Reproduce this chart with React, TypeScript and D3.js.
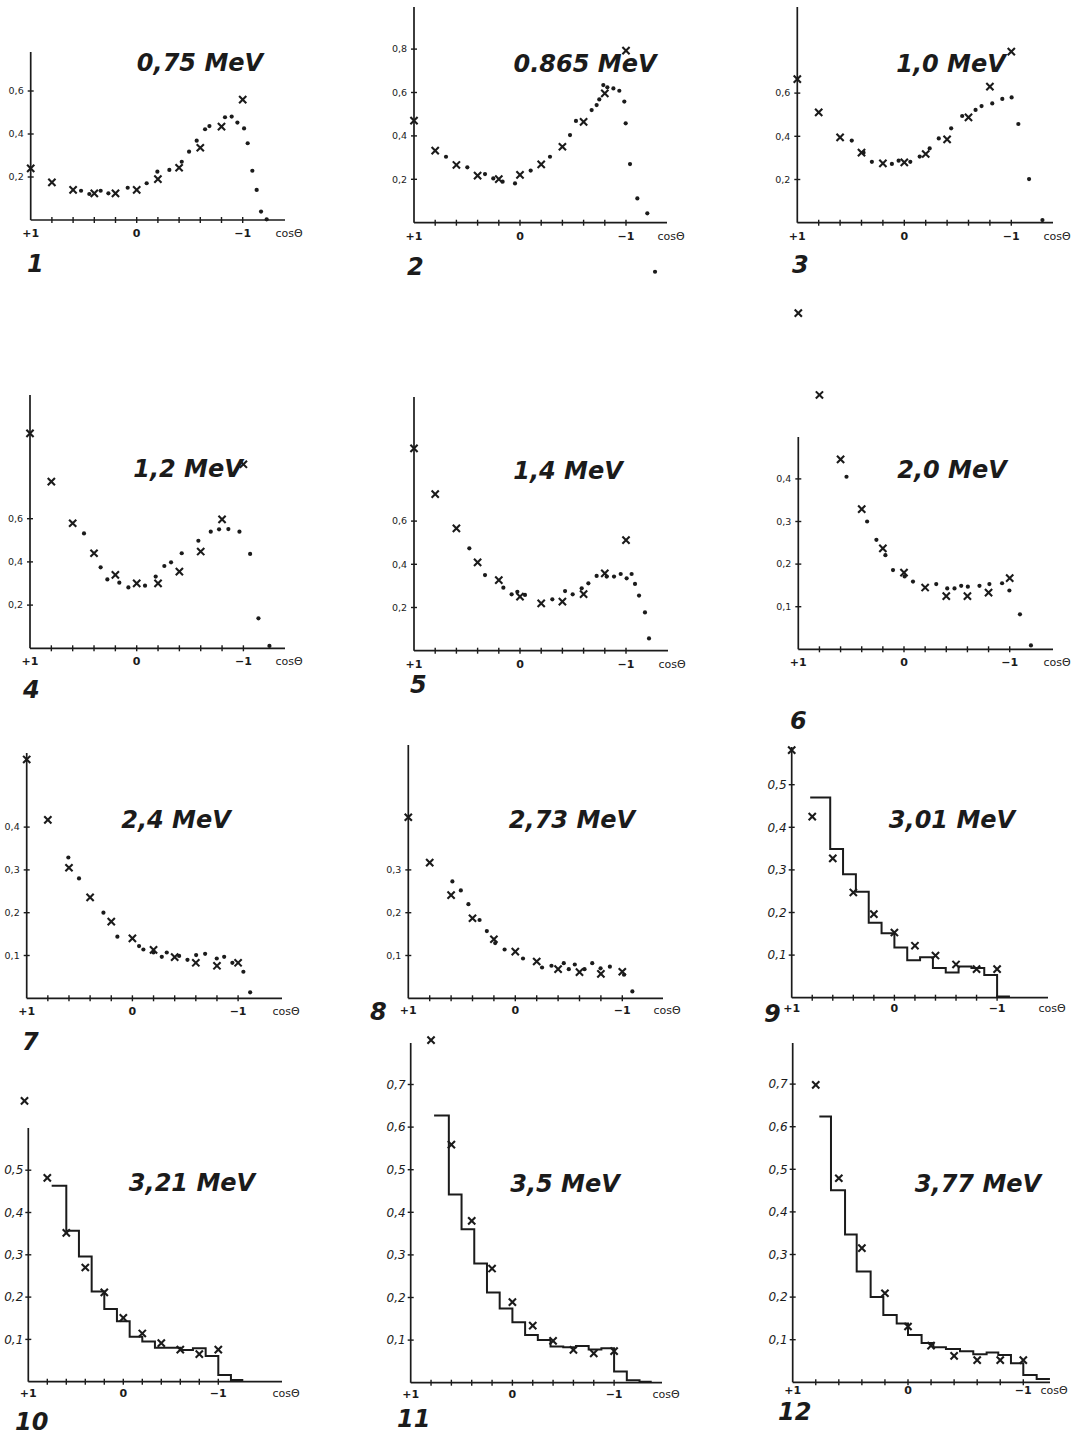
import React, { useEffect, useRef } from "react";
import { select, scaleLinear, line, curveStepAfter } from "d3";

// energies and panel numbers
const titles = ["0,75 MeV", "0.865 MeV", "1,0 MeV", "1,2 MeV", "1,4 MeV", "2,0 MeV", "2,4 MeV", "2,73 MeV", "3,01 MeV", "3,21 MeV", "3,5 MeV", "3,77 MeV"];
const numbers = ["1", "2", "3", "4", "5", "6", "7", "8", "9", "10", "11", "12"];

const yTicks = [
  [0.2, 0.4, 0.6],
  [0.2, 0.4, 0.6, 0.8],
  [0.2, 0.4, 0.6],
  [0.2, 0.4, 0.6],
  [0.2, 0.4, 0.6],
  [0.1, 0.2, 0.3, 0.4],
  [0.1, 0.2, 0.3, 0.4],
  [0.1, 0.2, 0.3],
  [0.1, 0.2, 0.3, 0.4, 0.5],
  [0.1, 0.2, 0.3, 0.4, 0.5],
  [0.1, 0.2, 0.3, 0.4, 0.5, 0.6, 0.7],
  [0.1, 0.2, 0.3, 0.4, 0.5, 0.6, 0.7],
];
const xTicks = [0.8, 0.6, 0.4, 0.2, 0, -0.2, -0.4, -0.6, -0.8, -1];

// [cos theta, value]
const crosses1 = [[1, 0.24], [0.8, 0.175], [0.6, 0.14], [0.4, 0.124], [0.2, 0.124], [0, 0.14], [-0.2, 0.19], [-0.4, 0.243], [-0.6, 0.336], [-0.8, 0.434], [-1, 0.56]];
const dots1 = [[0.525, 0.136], [0.447, 0.121], [0.34, 0.136], [0.267, 0.124], [0.085, 0.15], [-0.094, 0.171], [-0.195, 0.225], [-0.308, 0.233], [-0.425, 0.271], [-0.494, 0.318], [-0.566, 0.369], [-0.645, 0.422], [-0.686, 0.437], [-0.833, 0.478], [-0.896, 0.481], [-0.95, 0.453], [-1.013, 0.426], [-1.047, 0.357], [-1.091, 0.229], [-1.132, 0.14], [-1.173, 0.039], [-1.226, 0.003]];

const crosses2 = [[1, 0.47], [0.8, 0.332], [0.6, 0.266], [0.4, 0.217], [0.2, 0.201], [0, 0.22], [-0.2, 0.269], [-0.4, 0.35], [-0.6, 0.465], [-0.8, 0.596], [-1, 0.793]];
const dots2 = [[0.698, 0.304], [0.497, 0.255], [0.33, 0.224], [0.252, 0.204], [0.164, 0.189], [0.047, 0.181], [-0.101, 0.24], [-0.283, 0.304], [-0.472, 0.404], [-0.528, 0.469], [-0.676, 0.519], [-0.723, 0.542], [-0.748, 0.568], [-0.786, 0.634], [-0.824, 0.624], [-0.881, 0.619], [-0.937, 0.608], [-0.984, 0.558], [-0.997, 0.458], [-1.038, 0.27], [-1.107, 0.112], [-1.201, 0.043], [-1.274, -0.226]];

const crosses3 = [[1, 0.665], [0.8, 0.511], [0.6, 0.395], [0.4, 0.324], [0.2, 0.275], [0, 0.279], [-0.2, 0.318], [-0.4, 0.386], [-0.6, 0.488], [-0.8, 0.63], [-1, 0.792]];
const dots3 = [[0.491, 0.38], [0.381, 0.324], [0.303, 0.282], [0.116, 0.272], [0.053, 0.287], [-0.056, 0.282], [-0.144, 0.306], [-0.237, 0.344], [-0.322, 0.39], [-0.438, 0.437], [-0.541, 0.494], [-0.666, 0.522], [-0.722, 0.54], [-0.822, 0.552], [-0.916, 0.573], [-1.003, 0.58], [-1.066, 0.457], [-1.166, 0.202], [-1.291, 0.012]];

const crosses4 = [[1, 0.995], [0.8, 0.772], [0.6, 0.579], [0.4, 0.44], [0.2, 0.34], [0, 0.301], [-0.2, 0.301], [-0.4, 0.355], [-0.6, 0.448], [-0.8, 0.597], [-1, 0.852]];
const dots4 = [[0.494, 0.532], [0.338, 0.375], [0.275, 0.319], [0.163, 0.304], [0.078, 0.282], [-0.078, 0.29], [-0.178, 0.332], [-0.259, 0.381], [-0.322, 0.398], [-0.422, 0.44], [-0.578, 0.498], [-0.694, 0.54], [-0.772, 0.551], [-0.859, 0.552], [-0.963, 0.54], [-1.063, 0.437], [-1.141, 0.139], [-1.244, 0.011]];

const crosses5 = [[1, 0.937], [0.8, 0.725], [0.6, 0.566], [0.4, 0.409], [0.2, 0.327], [0, 0.25], [-0.2, 0.219], [-0.4, 0.227], [-0.6, 0.262], [-0.8, 0.358], [-1, 0.512]];
const dots5 = [[0.478, 0.474], [0.33, 0.35], [0.157, 0.292], [0.079, 0.261], [0.025, 0.273], [-0.047, 0.258], [-0.305, 0.238], [-0.425, 0.276], [-0.497, 0.261], [-0.582, 0.289], [-0.645, 0.312], [-0.723, 0.346], [-0.818, 0.343], [-0.887, 0.343], [-0.95, 0.355], [-1.006, 0.335], [-1.053, 0.355], [-1.085, 0.309], [-1.123, 0.255], [-1.179, 0.177], [-1.217, 0.057]];

const crosses6 = [[1, 0.789], [0.8, 0.597], [0.6, 0.446], [0.4, 0.329], [0.2, 0.237], [0, 0.18], [-0.2, 0.145], [-0.4, 0.125], [-0.6, 0.125], [-0.8, 0.133], [-1, 0.167]];
const dots6 = [[0.544, 0.405], [0.349, 0.3], [0.261, 0.257], [0.176, 0.221], [0.104, 0.186], [-0.006, 0.171], [-0.085, 0.159], [-0.305, 0.153], [-0.409, 0.143], [-0.478, 0.143], [-0.541, 0.149], [-0.604, 0.147], [-0.714, 0.149], [-0.808, 0.153], [-0.928, 0.155], [-0.997, 0.138], [-1.097, 0.082], [-1.201, 0.009]];

const crosses7 = [[1, 0.558], [0.8, 0.417], [0.6, 0.305], [0.4, 0.236], [0.2, 0.179], [0, 0.14], [-0.2, 0.113], [-0.4, 0.096], [-0.6, 0.083], [-0.8, 0.076], [-1, 0.083]];
const dots7 = [[0.606, 0.329], [0.505, 0.28], [0.274, 0.2], [0.142, 0.144], [-0.063, 0.122], [-0.104, 0.114], [-0.199, 0.107], [-0.278, 0.097], [-0.325, 0.107], [-0.442, 0.099], [-0.521, 0.09], [-0.603, 0.101], [-0.688, 0.104], [-0.798, 0.093], [-0.868, 0.097], [-0.946, 0.083], [-1.05, 0.062], [-1.114, 0.014]];

const crosses8 = [[1, 0.423], [0.8, 0.317], [0.6, 0.241], [0.4, 0.187], [0.2, 0.138], [0, 0.109], [-0.2, 0.086], [-0.4, 0.068], [-0.6, 0.061], [-0.8, 0.057], [-1, 0.062]];
const dots8 = [[0.588, 0.273], [0.509, 0.252], [0.438, 0.22], [0.334, 0.183], [0.266, 0.157], [0.188, 0.129], [0.1, 0.114], [-0.072, 0.093], [-0.25, 0.072], [-0.338, 0.076], [-0.453, 0.082], [-0.5, 0.068], [-0.556, 0.079], [-0.647, 0.068], [-0.719, 0.082], [-0.797, 0.07], [-0.884, 0.074], [-1.016, 0.055], [-1.094, 0.016]];

const crosses9 = [[1, 0.581], [0.8, 0.425], [0.6, 0.327], [0.4, 0.247], [0.2, 0.196], [0, 0.153], [-0.2, 0.122], [-0.4, 0.099], [-0.6, 0.078], [-0.8, 0.067], [-1, 0.067]];
const hist9Edges = [0.82, 0.625, 0.5, 0.375, 0.25, 0.125, 0, -0.125, -0.25, -0.375, -0.5, -0.625, -0.75, -0.875, -1, -1.125];
const hist9Values = [0.47, 0.349, 0.29, 0.249, 0.176, 0.151, 0.118, 0.088, 0.095, 0.07, 0.059, 0.073, 0.07, 0.053, 0.003];

const crosses10 = [[1.04, 0.664], [0.8, 0.482], [0.6, 0.352], [0.4, 0.27], [0.2, 0.211], [0, 0.151], [-0.2, 0.114], [-0.4, 0.091], [-0.6, 0.076], [-0.8, 0.065], [-1, 0.076]];
const hist10Edges = [0.754, 0.6, 0.467, 0.333, 0.2, 0.067, -0.067, -0.2, -0.333, -0.467, -0.6, -0.733, -0.867, -1, -1.133, -1.263];
const hist10Values = [0.463, 0.357, 0.296, 0.213, 0.172, 0.143, 0.106, 0.095, 0.08, 0.08, 0.075, 0.079, 0.061, 0.016, 0.004];

const crosses11 = [[0.8, 0.804], [0.6, 0.559], [0.4, 0.38], [0.2, 0.268], [0, 0.189], [-0.2, 0.134], [-0.4, 0.098], [-0.6, 0.077], [-0.8, 0.069], [-1, 0.074]];
const hist11Edges = [0.77, 0.625, 0.5, 0.375, 0.25, 0.125, 0, -0.125, -0.25, -0.375, -0.5, -0.625, -0.75, -0.875, -1, -1.125, -1.25, -1.37];
const hist11Values = [0.627, 0.442, 0.36, 0.28, 0.212, 0.174, 0.142, 0.112, 0.1, 0.085, 0.083, 0.086, 0.078, 0.081, 0.026, 0.006, 0.002];

const crosses12 = [[0.8, 0.698], [0.6, 0.479], [0.4, 0.315], [0.2, 0.209], [0, 0.131], [-0.2, 0.086], [-0.4, 0.062], [-0.6, 0.052], [-0.8, 0.052], [-1, 0.052]];
const hist12Edges = [0.769, 0.668, 0.546, 0.445, 0.324, 0.214, 0.098, 0, -0.118, -0.22, -0.329, -0.451, -0.566, -0.682, -0.783, -0.893, -1, -1.116, -1.231];
const hist12Values = [0.624, 0.451, 0.347, 0.26, 0.2, 0.158, 0.138, 0.111, 0.092, 0.082, 0.078, 0.073, 0.066, 0.07, 0.064, 0.045, 0.017, 0.008];

const crosses = [crosses1, crosses2, crosses3, crosses4, crosses5, crosses6, crosses7, crosses8, crosses9, crosses10, crosses11, crosses12];
const dots = [dots1, dots2, dots3, dots4, dots5, dots6, dots7, dots8, [], [], [], []];
const hists = [null, null, null, null, null, null, null, null,
  [hist9Edges, hist9Values], [hist10Edges, hist10Values], [hist11Edges, hist11Values], [hist12Edges, hist12Values]];

// where each little plot sits on the page (origin, px per unit, axis ends, text spots)
const layout = [
  { ox: 30.7, oy: 220, ux: 106, uy: 215, top: 52, x1: 285, ly: 17, tx: 200, ty: 71, nx: 27, ny: 272 },
  { ox: 414, oy: 222.7, ux: 106, uy: 217, top: 7, x1: 667, ly: 17, tx: 585, ty: 72, nx: 407, ny: 275 },
  { ox: 797.3, oy: 222.7, ux: 107, uy: 216, top: 7, x1: 1053, ly: 17, tx: 951, ty: 72, nx: 792, ny: 273 },
  { ox: 30, oy: 648.3, ux: 106.7, uy: 216, top: 395, x1: 285, ly: 17, tx: 188, ty: 477, nx: 23, ny: 698 },
  { ox: 414, oy: 650.7, ux: 106, uy: 216, top: 397, x1: 668, ly: 17, tx: 568, ty: 479, nx: 410, ny: 693 },
  { ox: 798.3, oy: 649.3, ux: 105.7, uy: 426, top: 437, x1: 1053, ly: 17, tx: 952, ty: 478, nx: 790, ny: 729 },
  { ox: 26.7, oy: 998.3, ux: 105.7, uy: 428, top: 753, x1: 282, ly: 17, tx: 176, ty: 828, nx: 22, ny: 1050 },
  { ox: 408.3, oy: 998.3, ux: 107, uy: 428, top: 745, x1: 663, ly: 16, tx: 572, ty: 828, nx: 370, ny: 1020 },
  { ox: 791.7, oy: 997.7, ux: 102.7, uy: 426, top: 747, x1: 1048, ly: 14, tx: 952, ty: 828, nx: 764, ny: 1022 },
  { ox: 28.3, oy: 1381.7, ux: 95, uy: 423, top: 1128, x1: 282, ly: 15, tx: 192, ty: 1191, nx: 15, ny: 1430 },
  { ox: 410.7, oy: 1382.7, ux: 101.7, uy: 426, top: 1043, x1: 662, ly: 15, tx: 565, ty: 1192, nx: 397, ny: 1427 },
  { ox: 792.7, oy: 1382.3, ux: 115.3, uy: 426, top: 1043, x1: 1050, ly: 12, tx: 978, ty: 1192, nx: 778, ny: 1420 },
];

const INK = "#1b1b1b";
const FONT = "'DejaVu Sans', sans-serif";

const App = () => {
  const ref = useRef(null);

  useEffect(() => {
    const svg = select(ref.current);
    svg.selectAll("*").remove();

    titles.forEach((title, i) => {
      const L = layout[i];
      const x = scaleLinear().domain([1, 0]).range([L.ox, L.ox + L.ux]);
      const y = scaleLinear().domain([0, 1]).range([L.oy, L.oy - L.uy]);
      const g = svg.append("g");
      const late = i >= 8; // bottom plots have italic, larger tick labels

      // axes
      g.append("line").attr("x1", L.ox).attr("x2", L.x1).attr("y1", L.oy).attr("y2", L.oy)
        .attr("stroke", INK).attr("stroke-width", 1.7);
      g.append("line").attr("x1", L.ox).attr("x2", L.ox).attr("y1", L.oy).attr("y2", L.top)
        .attr("stroke", INK).attr("stroke-width", 1.7);

      g.selectAll(".xt").data(xTicks).enter().append("line")
        .attr("x1", (d) => x(d)).attr("x2", (d) => x(d))
        .attr("y1", L.oy - 3).attr("y2", L.oy + 3)
        .attr("stroke", INK).attr("stroke-width", 1.4);

      g.selectAll(".yt").data(yTicks[i]).enter().append("line")
        .attr("x1", L.ox - 3).attr("x2", L.ox + 3)
        .attr("y1", (d) => y(d)).attr("y2", (d) => y(d))
        .attr("stroke", INK).attr("stroke-width", 1.4);

      g.selectAll(".yl").data(yTicks[i]).enter().append("text")
        .attr("x", L.ox - (late ? 5 : 7)).attr("y", (d) => y(d)).attr("dy", "0.35em")
        .attr("text-anchor", "end")
        .attr("font-family", FONT).attr("font-size", late ? 12 : 9.5)
        .attr("font-style", late ? "italic" : "normal")
        .attr("fill", INK)
        .text((d) => d.toFixed(1).replace(".", ","));

      // x labels
      const xl = [[1, "+1"], [0, "0"], [-1, "\u22121"]];
      g.selectAll(".xl").data(xl).enter().append("text")
        .attr("x", (d) => x(d[0])).attr("y", L.oy + L.ly)
        .attr("text-anchor", "middle")
        .attr("font-family", FONT).attr("font-size", 11).attr("font-weight", "bold")
        .attr("fill", INK)
        .text((d) => d[1]);
      g.append("text").attr("x", L.x1 + 4).attr("y", L.oy + L.ly)
        .attr("text-anchor", "middle")
        .attr("font-family", FONT).attr("font-size", 11)
        .attr("fill", INK).text("cos\u0398");

      // histogram
      const h = hists[i];
      if (h) {
        const [edges, vals] = h;
        const pts = vals.map((v, k) => [edges[k], v]);
        pts.push([edges[edges.length - 1], vals[vals.length - 1]]);
        const path = line().x((d) => x(d[0])).y((d) => y(d[1])).curve(curveStepAfter);
        g.append("path").attr("d", path(pts)).attr("fill", "none")
          .attr("stroke", INK).attr("stroke-width", 2);
      }

      // dots
      g.selectAll(".dot").data(dots[i]).enter().append("circle")
        .attr("cx", (d) => x(d[0])).attr("cy", (d) => y(d[1])).attr("r", 2.1)
        .attr("fill", INK);

      // crosses
      const s = 3.6;
      g.selectAll(".cross").data(crosses[i]).enter().append("path")
        .attr("transform", (d) => `translate(${x(d[0])},${y(d[1])})`)
        .attr("d", `M${-s},${-s}L${s},${s}M${-s},${s}L${s},${-s}`)
        .attr("stroke", INK).attr("stroke-width", 2.1).attr("fill", "none");

      // title and number
      g.append("text").attr("x", L.tx).attr("y", L.ty)
        .attr("text-anchor", "middle")
        .attr("font-family", FONT).attr("font-style", "italic").attr("font-weight", "bold")
        .attr("font-size", 24)
        .attr("fill", INK).text(title);
      g.append("text").attr("x", L.nx).attr("y", L.ny)
        .attr("font-family", FONT).attr("font-style", "italic").attr("font-weight", "bold")
        .attr("font-size", 24)
        .attr("fill", INK).text(numbers[i]);
    });
  }, []);

  return (
    <div style={{ position: "absolute", left: 0, top: 0 }}>
      <svg ref={ref} width="1083" height="1436" style={{ background: "#ffffff", display: "block" }}></svg>
    </div>
  );
};

export default App;
